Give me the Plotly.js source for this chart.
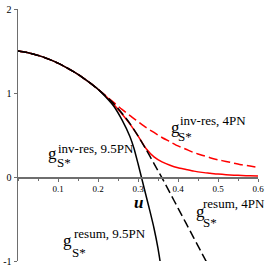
<!DOCTYPE html>
<html><head><meta charset="utf-8">
<script src="https://cdn.plot.ly/plotly-3.0.1.min.js"></script>
<style>html,body{margin:0;padding:0;background:#fff}</style>
</head><body><div id="chart" style="width:270px;height:270px"></div>
<script>
// shared part of all four curves (u from 0 to 0.20)
const uHead = [0, 0.02, 0.04, 0.06, 0.08, 0.10, 0.12, 0.14, 0.16, 0.18, 0.20];
const gHead = [1.5, 1.484, 1.462, 1.433, 1.397, 1.355, 1.306, 1.251, 1.189, 1.12, 1.045];

// inv-res 4PN (red dashed)
const uInv4 = [0.22,0.24,0.26,0.28,0.30,0.32,0.34,0.36,0.38,0.40,0.42,0.44,0.46,0.48,0.50,0.52,0.54,0.56,0.58,0.60];
const gInv4 = [0.965,0.885,0.805,0.73,0.66,0.59,0.53,0.47,0.42,0.37,0.33,0.29,0.26,0.23,0.205,0.185,0.165,0.145,0.13,0.115];

// inv-res 9.5PN (red solid)
const uInv95 = [0.22,0.24,0.26,0.28,0.30,0.32,0.34,0.36,0.38,0.40,0.42,0.44,0.46,0.48,0.50,0.52,0.54,0.56,0.58,0.60];
const gInv95 = [0.96,0.86,0.75,0.63,0.49,0.34,0.24,0.18,0.14,0.11,0.09,0.07,0.055,0.045,0.035,0.028,0.022,0.018,0.014,0.012];

// resum 4PN (black dashed)
const uRes4 = [0.22,0.24,0.26,0.28,0.30,0.32,0.34,0.36,0.38,0.40,0.42,0.44,0.46,0.48];
const gRes4 = [0.96,0.87,0.76,0.635,0.49,0.33,0.16,-0.01,-0.19,-0.37,-0.55,-0.73,-0.91,-1.09];

// resum 9.5PN (black solid)
const uRes95 = [0.22,0.24,0.26,0.28,0.29,0.30,0.31,0.32,0.33,0.34,0.35,0.36];
const gRes95 = [0.95,0.84,0.68,0.48,0.34,0.16,-0.03,-0.22,-0.41,-0.61,-0.85,-1.15];

const xTicks = [0.1, 0.2, 0.3, 0.4, 0.5, 0.6];
const xTickText = ['0.1','0.2','0.3','0.4','0.5','0.6'];
const yTicks = [-1, 0, 1, 2];
const yTickText = ['-1','0','1','2'];

function tr(u, g, color, dash) {
  return {x: uHead.concat(u), y: gHead.concat(g), mode: 'lines', type: 'scatter',
    line: {color: color, width: 1.5, dash: dash, shape: 'spline', smoothing: 0.6},
    hoverinfo: 'skip', showlegend: false};
}
const data = [
  tr(uInv4, gInv4, '#ff0000', '9px,4px'),
  tr(uInv95, gInv95, '#ff0000', 'solid'),
  tr(uRes4, gRes4, '#000000', '9px,4px'),
  tr(uRes95, gRes95, '#000000', 'solid')
];

const L = 18, R = 12, T = 9, B = 9, W = 270, H = 270;
const serif = 'Liberation Serif';
function ann(px, py, text, size) {
  return {xref: 'paper', yref: 'paper', x: (px - L) / (W - L - R), y: (H - B - py) / (H - T - B),
    xanchor: 'left', yanchor: 'middle', text: text, showarrow: false,
    borderpad: 0, borderwidth: 0, font: {family: serif, size: size, color: '#000'}};
}
const annotations = [
  ann(171, 127, 'g', 17), ann(180, 120, 'inv-res, 4PN', 13), ann(178, 136, 'S*', 13),
  ann(48, 153, 'g', 17), ann(58, 148, 'inv-res, 9.5PN', 13), ann(57, 162, 'S*', 13),
  ann(196, 211, 'g', 17), ann(203, 203.5, 'resum, 4PN', 13), ann(203, 222, 'S*', 13),
  ann(63, 240, 'g', 17), ann(74, 233.5, 'resum, 9.5PN', 13), ann(72, 252, 'S*', 13),
  ann(134, 202, '<b><i>u</i></b>', 17)
];

const axCol = '#6e6e6e';
const layout = {
  width: W, height: H, margin: {l: L, r: R, t: T, b: B, pad: 0},
  paper_bgcolor: '#fff', plot_bgcolor: '#fff', showlegend: false,
  font: {family: serif},
  xaxis: {range: [0, 0.6], anchor: 'free', position: 1/3, showline: true, linecolor: axCol, linewidth: 1.5,
    tickmode: 'array', tickvals: xTicks, ticktext: xTickText, ticks: 'outside', ticklen: 3, tickcolor: axCol,
    tickwidth: 1, tickfont: {family: serif, size: 9, color: '#000'}, showgrid: false, zeroline: false,
    minor: {tickmode: 'linear', tick0: 0, dtick: 0.05, ticks: 'outside', ticklen: 2, tickcolor: axCol, showgrid: false}},
  yaxis: {range: [-1, 2], showline: true, linecolor: axCol, linewidth: 1.5,
    tickmode: 'array', tickvals: yTicks, ticktext: yTickText, ticks: 'outside', ticklen: 3, tickcolor: axCol,
    tickfont: {family: serif, size: 10, color: '#000'}, showgrid: false, zeroline: false},
  annotations: annotations
};
Plotly.newPlot('chart', data, layout, {staticPlot: true, displayModeBar: false});
</script></body></html>
